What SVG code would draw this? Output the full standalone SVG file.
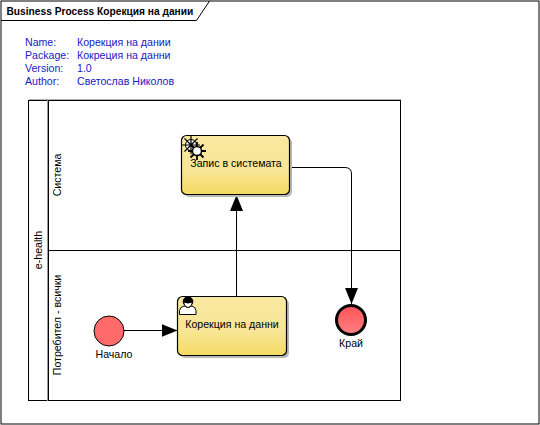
<svg xmlns="http://www.w3.org/2000/svg" width="540" height="425" viewBox="0 0 540 425">
<style>
text{font-family:"Liberation Sans",Arial,sans-serif;font-size:10.6px;fill:#000}
.title{font-size:10.2px;font-weight:bold}
.m{fill:#2020c4}
.ln{fill:none;stroke:#000;stroke-width:1}
.task{fill:url(#tg);stroke:#000;stroke-width:1.2}
.sh{fill:#b8b8b8}
.ic{fill:none;stroke:#000;stroke-width:1}
</style>
<defs>
<linearGradient id="tg" x1="0" y1="0" x2="0" y2="1"><stop offset="0" stop-color="#f9e8a0"/><stop offset=".6" stop-color="#f8e596"/><stop offset="1" stop-color="#f4da62"/></linearGradient>
<linearGradient id="rg" x1="0" y1="0" x2="0" y2="1"><stop offset="0" stop-color="#ff5458"/><stop offset="1" stop-color="#ff8084"/></linearGradient>
<marker id="ah" markerUnits="userSpaceOnUse" markerWidth="16" markerHeight="14" refX="16" refY="7" orient="auto"><path d="M0 0.500L16 7L0 13.500Z" fill="#000"/></marker>
</defs>
<rect width="540" height="425" fill="#fff"/>
<g id="frame">
<rect x="1" y="1" width="538" height="423" fill="none" stroke="#000"/>
<path class="ln" d="M1 20.500H196.500L209.500 1"/>
<text class="title" x="6.500" y="14.500">Business Process Корекция на дании</text>
</g>
<g id="meta">
<text class="m" x="25" y="46">Name:</text><text class="m" x="77" y="46">Корекция на дании</text>
<text class="m" x="25" y="59">Package:</text><text class="m" x="77" y="59">Кокреция на данни</text>
<text class="m" x="25" y="72">Version:</text><text class="m" x="77" y="72">1.0</text>
<text class="m" x="25" y="85">Author:</text><text class="m" x="77" y="85">Светослав Николов</text>
</g>
<g id="pool">
<path d="M29 99.500H401" stroke="#b0b0b0" fill="none"/>
<rect x="28.500" y="100.500" width="372" height="300" fill="#fff" stroke="#000"/>
<path d="M47.500 100V401" stroke="#999" fill="none"/>
<path d="M48.500 100V401" stroke="#000" fill="none"/>
<text transform="translate(41.500 250) rotate(-90)" text-anchor="middle">e-health</text>
</g>
<g id="lane-system">
<text transform="translate(61 175) rotate(-90)" text-anchor="middle">Система</text>
</g>
<g id="lane-user">
<path class="ln" d="M48 250.500H400.500"/>
<text transform="translate(61 325) rotate(-90)" text-anchor="middle">Потребител - всички</text>
</g>
<g id="connectors">
<path class="ln" d="M124 330.500H177.500" marker-end="url(#ah)"/>
<path class="ln" d="M236.500 296.500V195" marker-end="url(#ah)"/>
<path class="ln" d="M290 167.500H345Q351.500 167.500 351.500 174V304" marker-end="url(#ah)"/>
</g>
<g id="task-write">
<rect class="sh" x="184" y="138" width="108" height="59" rx="5"/>
<rect class="task" x="181.500" y="135.500" width="108" height="59" rx="5"/>
<g class="ic">
<circle cx="191" cy="145" r="5.500" fill="#fff"/><path d="M191 136V154M182 145H200M184.500 138.500L197.500 151.500M197.500 138.500L184.500 151.500" stroke-width="1.200"/>
<path d="M197 142V160M188 151H206M190.500 144.500L203.500 157.500M203.500 144.500L190.500 157.500" stroke-width="1.800"/><circle cx="197" cy="151" r="4.500" fill="#fff" stroke-width="1.500"/>
</g>
<text x="236" y="167" text-anchor="middle">Запис в системата</text>
</g>
<g id="task-fix">
<rect class="sh" x="180" y="299" width="109" height="59" rx="5"/>
<rect class="task" x="177.500" y="296.500" width="109" height="59" rx="5"/>
<g class="ic">
<path d="M179.500 314.500V310.500Q180 307 184 306Q188 309 192 306Q195.500 307 196 310.500V314.500Z" fill="#fff"/>
<circle cx="188" cy="301.500" r="4.800" fill="#000"/><path d="M184 302Q188 304 192 302V304Q190.500 307.500 188 307.500Q185.500 307.500 184 304Z" fill="#fff" stroke="#000"/>
</g>
<text x="232" y="328" text-anchor="middle">Корекция на данни</text>
</g>
<g id="start">
<circle cx="109" cy="331" r="15" fill="#ff6a6a" stroke="#000"/>
<text x="114" y="358" text-anchor="middle">Начало</text>
</g>
<g id="end">
<circle cx="351" cy="320" r="14.500" fill="url(#rg)" stroke="#000" stroke-width="3"/>
<text x="351" y="347" text-anchor="middle">Край</text>
</g>
</svg>
